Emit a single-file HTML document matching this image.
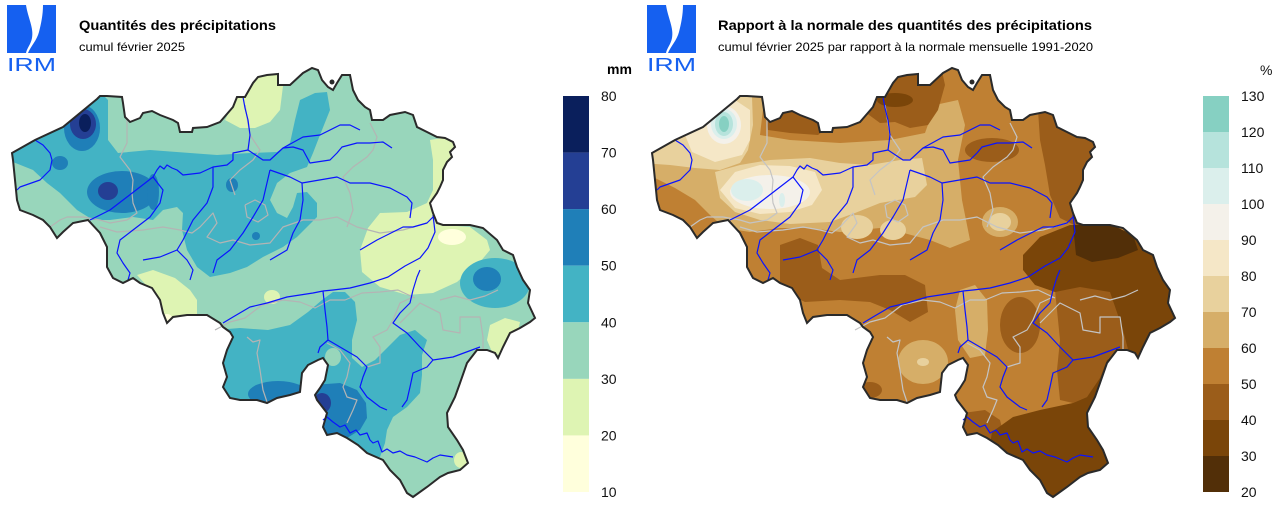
<!DOCTYPE html>
<html><head><meta charset="utf-8">
<style>
html,body{margin:0;padding:0;background:#fff;}
svg{display:block;}
text{font-family:"Liberation Sans",Arial,sans-serif;}
</style></head>
<body>
<svg width="1280" height="507" viewBox="0 0 1280 507" xmlns="http://www.w3.org/2000/svg">
<defs>
<clipPath id="be"><path id="bepath" d="M12,153 L35,140 L63,127 L97,99 L100,96 L107,96 L122,97 L123,103 L125,117 L130,122 L140,118 L143,113 L152,111 L160,115 L173,120 L178,123 L180,132 L192,132 L193,128 L207,127 L220,122 L233,107 L237,97 L245,97 L253,83 L258,77 L267,75 L278,74 L278,85 L290,85 L303,73 L312,68 L318,70 L322,80 L328,87 L333,90 L337,83 L342,75 L350,75 L353,90 L358,100 L365,107 L370,110 L372,120 L383,120 L390,115 L405,112 L413,115 L417,127 L427,132 L437,137 L445,138 L453,142 L455,147 L450,152 L452,157 L447,162 L443,170 L443,180 L440,187 L437,193 L430,203 L433,213 L437,223 L443,225 L457,225 L470,225 L483,228 L497,240 L503,250 L513,255 L517,267 L523,280 L530,290 L528,303 L535,318 L530,322 L520,328 L510,333 L503,347 L498,358 L495,353 L487,350 L477,350 L467,363 L460,383 L455,397 L447,413 L448,427 L457,440 L463,450 L468,463 L460,470 L448,473 L440,477 L427,487 L413,497 L407,493 L400,480 L390,470 L383,460 L367,453 L358,445 L347,438 L337,433 L327,435 L323,427 L327,413 L317,400 L315,395 L320,388 L325,380 L328,365 L323,358 L318,360 L308,365 L302,373 L300,392 L290,395 L277,398 L267,403 L257,400 L240,400 L230,398 L223,387 L227,377 L223,363 L227,350 L233,337 L230,332 L223,327 L220,323 L207,315 L187,315 L173,317 L167,323 L163,313 L160,300 L152,288 L140,283 L133,278 L123,283 L113,278 L107,267 L107,247 L100,233 L88,220 L73,223 L63,232 L57,238 L50,227 L43,220 L33,215 L20,210 L17,200 L15,180 L13,160 Z"/></clipPath>

<g id="rivers" fill="none" stroke="#0a14ff" stroke-width="1.2" stroke-linejoin="round">
<polyline points="35,140 43,145 50,153 52,160 50,170 40,180 20,187 17,190"/>
<polyline points="90,220 110,210 127,197 140,187 153,177 157,170 160,166 164,169 167,165 172,168 177,170 183,175 200,173 213,167 227,165 233,160 233,153 248,150 263,160 270,160 283,148 303,137 320,135 340,125 350,125 360,130"/>
<polyline points="248,150 250,135 248,120 245,108 243,97"/>
<polyline points="153,177 163,190 160,203 150,217 133,230 120,240 117,253 123,263 130,273 128,280"/>
<polyline points="213,167 213,187 207,203 193,220 183,240 177,250 160,257 143,260"/>
<polyline points="177,250 187,260 193,270 190,280"/>
<polyline points="270,170 263,200 253,217 243,233 230,250 217,260 213,273"/>
<polyline points="283,148 293,147 303,150 310,163 330,160 337,153 342,147 357,143 370,143 383,142 392,148"/>
<polyline points="270,170 290,177 302,183 337,177 350,183 370,183 390,188 407,197 412,203 410,218"/>
<polyline points="302,183 303,200 300,220 293,233 287,250 270,260"/>
<polyline points="360,250 377,240 403,227 413,227 427,223 433,217"/>
<polyline points="433,215 435,232 428,248 420,258 405,266 388,277 370,283 350,288 333,290 323,291"/>
<polyline points="323,291 313,293 300,295 287,297 267,303 250,307 233,317 223,323"/>
<polyline points="323,291 325,310 327,327 328,340 320,347 318,353"/>
<polyline points="328,340 340,347 357,357 367,367 363,377 360,387 367,397 380,407 387,410"/>
<polyline points="420,270 417,277 413,290 410,303 400,313 393,323 407,333 420,347 433,360 453,357 480,347"/>
<polyline points="433,360 427,367 413,373 410,387 407,400 402,407"/>
<polyline points="323,420 327,417 333,422 340,427 345,425 350,433 356,430 360,435 367,433 370,440 373,443 378,441 382,452 387,449 393,453 400,451 407,455 415,457 427,462 433,458 440,455 453,457"/>
</g>

<g id="prov" fill="none" stroke-width="1.2" stroke-linejoin="round">
<polyline points="127,120 127,143 120,157 130,170 133,180 132,193 133,203 137,213 127,220 110,223 100,220 83,217 67,217 60,220 50,227"/>
<polyline points="100,227 117,232 143,230 163,227 180,230 192,233 200,227 213,213 217,223 207,237 220,243 233,240 250,245 270,243 283,227 303,220 320,220 337,217 357,227 380,233 403,230 427,223"/>
<polyline points="370,123 377,137 373,150 367,157 353,167 343,177 350,193 353,210 347,227"/>
<polyline points="245,105 250,135 260,150 253,160 240,170 230,180 235,195"/>
<polyline points="247,337 253,342 260,340 257,353 260,370 263,390 267,402"/>
<polyline points="327,343 340,350 350,363 347,377 343,387 347,397 357,400 353,410 347,423"/>
<polyline points="367,367 380,363 380,347 373,337 387,330 393,320 400,303 413,297"/>
<polyline points="400,323 420,303 440,313 443,330 460,333 460,317 480,317 483,337 483,350"/>
<polyline points="215,330 230,322 245,318 262,305 283,300 300,302 315,308 330,300 345,300 362,293 380,292 398,290 415,298"/>
<polyline points="245,205 255,200 265,205 268,215 258,222 247,217 245,205"/>
<polyline points="440,300 455,296 470,300 485,296 498,290"/>
</g>

<g id="logo" fill="#1560f0">
<path d="M7,5 L26,5 C28,18 34,28 32,38 C31,44 27,48 26,53 L7,53 Z"/>
<path d="M43,5 L56,5 L56,53 L28,53 C31,46 37,40 39,32 C41,24 43,15 43,5 Z"/>
</g>
</defs>

<!-- ============ LEFT PANEL ============ -->
<use href="#logo"/>
<text x="7" y="71" font-size="18.5" fill="#1560f0" textLength="49" lengthAdjust="spacingAndGlyphs">IRM</text>
<text x="79" y="30" font-size="14" font-weight="bold" fill="#000" textLength="197" lengthAdjust="spacingAndGlyphs">Quantités des précipitations</text>
<text x="79" y="51" font-size="12" fill="#000" textLength="106" lengthAdjust="spacingAndGlyphs">cumul février 2025</text>

<g clip-path="url(#be)">
<rect x="0" y="60" width="560" height="447" fill="#98d6bb"/>
<!-- 20-30 -->
<path fill="#def4b3" d="M225,120 L237,97 L258,77 L285,70 L280,110 L270,122 L255,128 L240,128 Z"/>
<path fill="#def4b3" d="M380,213 L407,212 L427,203 L433,190 L433,160 L430,140 L460,135 L455,150 L447,165 L443,185 L437,213 L443,225 L470,227 L487,240 L490,250 L480,262 L465,275 L457,282 L433,293 L407,295 L380,287 L362,272 L360,250 L368,228 Z"/>
<path fill="#def4b3" d="M137,275 L153,270 L175,278 L190,290 L197,300 L197,318 L165,322 L155,295 Z"/>
<ellipse cx="272" cy="297" rx="8" ry="7" fill="#def4b3"/>
<path fill="#def4b3" d="M490,325 L505,318 L520,322 L515,345 L505,358 L492,352 L487,340 Z"/>
<ellipse cx="461" cy="460" rx="7" ry="8" fill="#def4b3"/>
<!-- 10-20 -->
<ellipse cx="452" cy="237" rx="14" ry="8" fill="#ffffdc"/>
<ellipse cx="167" cy="318" rx="5" ry="4" fill="#ffffdc"/>
<!-- 40-50 teal -->
<path fill="#43b3c4" d="M0,148 L45,120 L100,92 L108,100 L108,140 L118,153 L150,150 L190,153 L217,155 L250,153 L277,152 L290,143 L295,120 L300,100 L315,93 L327,92 L330,110 L320,135 L313,153 L307,167 L290,173 L277,183 L270,200 L277,213 L287,218 L293,207 L297,193 L307,192 L317,203 L317,217 L307,227 L297,237 L283,247 L263,257 L247,267 L230,273 L210,277 L197,267 L187,250 L182,230 L183,213 L177,207 L163,210 L153,220 L133,217 L110,220 L93,220 L77,210 L60,193 L47,183 L33,170 L13,162 L0,160 Z"/>
<path fill="#43b3c4" d="M215,330 L240,328 L268,330 L290,325 L308,312 L322,300 L333,292 L345,292 L355,302 L357,320 L352,340 L352,358 L362,367 L375,360 L390,345 L400,335 L415,330 L427,340 L422,355 L422,375 L420,393 L407,407 L393,417 L387,430 L385,443 L380,457 L360,455 L340,445 L320,432 L300,420 L280,410 L230,405 L215,380 Z"/>
<ellipse cx="495" cy="283" rx="35" ry="25" fill="#43b3c4"/>
<ellipse cx="333" cy="357" rx="8" ry="9" fill="#98d6bb"/>
<!-- 50-60 -->
<g fill="#1f7fb8">
<ellipse cx="82" cy="128" rx="18" ry="23"/>
<ellipse cx="60" cy="163" rx="8" ry="7"/>
<ellipse cx="122" cy="192" rx="35" ry="21"/>
<ellipse cx="232" cy="185" rx="6" ry="7"/>
<ellipse cx="256" cy="236" rx="4" ry="4"/>
<ellipse cx="153" cy="192" rx="6" ry="18"/>
<ellipse cx="278" cy="394" rx="30" ry="13"/>
<path d="M313,385 L340,383 L357,390 L366,403 L367,418 L360,430 L347,438 L327,436 L313,418 Z"/>
<ellipse cx="487" cy="279" rx="14" ry="12"/>
</g>
<!-- 60-70 -->
<g fill="#243f94">
<ellipse cx="83" cy="124" rx="13" ry="15"/>
<ellipse cx="108" cy="191" rx="10" ry="9"/>
<ellipse cx="322" cy="403" rx="9" ry="10"/>
</g>
<!-- 70-80 -->
<ellipse cx="85" cy="123" rx="6" ry="9" fill="#0a1f5c"/>
</g>
<use href="#prov" stroke="#b4b4b4"/>
<use href="#rivers"/>
<use href="#bepath" fill="none" stroke="#2a2a2a" stroke-width="2"/>
<circle cx="332" cy="82" r="2.5" fill="#2a2a2a"/>

<!-- colorbar left -->
<rect x="563" y="96" width="26" height="56.6" fill="#0a1f5c"/>
<rect x="563" y="152.6" width="26" height="56.6" fill="#243f94"/>
<rect x="563" y="209.1" width="26" height="56.6" fill="#1f7fb8"/>
<rect x="563" y="265.7" width="26" height="56.6" fill="#43b3c4"/>
<rect x="563" y="322.3" width="26" height="56.6" fill="#98d6bb"/>
<rect x="563" y="378.9" width="26" height="56.6" fill="#def4b3"/>
<rect x="563" y="435.4" width="26" height="56.6" fill="#ffffdc"/>
<text x="607" y="74" font-size="14" font-weight="bold">mm</text>
<g font-size="14" fill="#111">
<text x="601" y="101">80</text>
<text x="601" y="157.6">70</text>
<text x="601" y="214.1">60</text>
<text x="601" y="270.7">50</text>
<text x="601" y="327.3">40</text>
<text x="601" y="383.9">30</text>
<text x="601" y="440.4">20</text>
<text x="601" y="497">10</text>
</g>

<!-- ============ RIGHT PANEL ============ -->
<g transform="translate(640,0)">
<use href="#logo"/>
<text x="7" y="71" font-size="18.5" fill="#1560f0" textLength="49" lengthAdjust="spacingAndGlyphs">IRM</text>
<text x="78" y="30" font-size="14" font-weight="bold" fill="#000" textLength="374" lengthAdjust="spacingAndGlyphs">Rapport à la normale des quantités des précipitations</text>
<text x="78" y="51" font-size="12" fill="#000" textLength="375" lengthAdjust="spacingAndGlyphs">cumul février 2025 par rapport à la normale mensuelle 1991-2020</text>

<g clip-path="url(#be)">
<rect x="0" y="60" width="560" height="447" fill="#bf8033"/>
<!-- 60-70 -->
<g fill="#d6ae68">
<path d="M0,145 L100,90 L125,92 L120,135 L150,140 L200,143 L250,140 L285,133 L295,105 L318,100 L325,125 L318,160 L322,200 L330,240 L310,248 L290,240 L260,232 L240,228 L200,232 L170,228 L140,228 L110,232 L85,228 L70,215 L55,200 L35,188 L15,178 L0,172 Z"/>
<path d="M320,290 L335,285 L347,300 L348,330 L345,355 L330,358 L318,340 L315,310 Z"/>
<ellipse cx="283" cy="362" rx="25" ry="22"/>
<ellipse cx="360" cy="222" rx="18" ry="15"/>
</g>
<!-- 70-80 -->
<g fill="#e8d19d">
<path d="M0,148 L97,97 L112,97 L113,125 L108,150 L100,163 L80,170 L55,168 L30,165 L0,163 Z"/>
<path d="M75,172 L100,165 L130,160 L170,158 L200,163 L230,165 L260,160 L282,158 L287,185 L275,197 L240,203 L215,213 L190,222 L150,224 L120,220 L95,212 L80,198 Z"/>
<ellipse cx="217" cy="227" rx="16" ry="12"/>
<ellipse cx="253" cy="230" rx="13" ry="10"/>
<ellipse cx="360" cy="222" rx="11" ry="9"/>
<ellipse cx="283" cy="362" rx="6" ry="4"/>
</g>
<!-- 80-90 -->
<g fill="#f5e7c7">
<path d="M45,135 L65,108 L95,100 L110,110 L110,140 L102,155 L75,162 L52,152 Z"/>
<path d="M80,190 L95,172 L120,165 L150,166 L175,172 L182,190 L172,205 L150,212 L120,214 L95,208 Z"/>
</g>
<!-- 90-100 -->
<ellipse cx="84" cy="125" rx="17" ry="19" fill="#f4f1ea"/>
<ellipse cx="130" cy="192" rx="40" ry="17" fill="#f4f1ea"/>
<!-- 100-110 -->
<ellipse cx="84" cy="124" rx="13" ry="15" fill="#dbefec"/>
<ellipse cx="107" cy="190" rx="16" ry="11" fill="#dbefec"/>
<ellipse cx="142" cy="200" rx="3" ry="7" fill="#dbefec"/>
<!-- 110-130 -->
<ellipse cx="84" cy="124" rx="9" ry="12" fill="#b6e3dc"/>
<ellipse cx="84" cy="124" rx="5" ry="8" fill="#86d0c2"/>
<!-- 40-50 -->
<g fill="#9b5d1a">
<path d="M125,108 L150,110 L180,118 L190,126 L178,135 L150,133 L128,130 Z"/>
<path d="M225,112 L238,92 L260,70 L300,62 L305,85 L298,110 L288,125 L270,128 L255,122 L240,123 Z"/>
<ellipse cx="352" cy="150" rx="27" ry="12"/>
<path d="M398,110 L460,110 L460,225 L440,228 L420,218 L410,195 L405,165 L400,140 Z"/>
<path d="M140,245 L160,238 L178,245 L182,268 L200,280 L240,275 L265,275 L285,285 L288,312 L270,322 L250,310 L230,302 L200,300 L165,302 L140,290 Z"/>
<ellipse cx="380" cy="325" rx="20" ry="28"/>
<path d="M415,290 L440,285 L483,287 L500,340 L483,357 L467,362 L460,380 L447,397 L433,403 L420,400 L417,370 L420,340 Z"/>
<path d="M323,413 L345,410 L360,420 L365,440 L355,450 L335,445 L320,435 Z"/>
<ellipse cx="230" cy="390" rx="12" ry="8"/>
</g>
<!-- 30-40 -->
<g fill="#7a4509">
<ellipse cx="255" cy="100" rx="18" ry="7"/>
<path d="M383,255 L400,237 L430,225 L470,225 L505,245 L545,285 L545,362 L490,357 L483,330 L470,292 L440,287 L415,292 L395,285 L383,270 Z"/>
<path d="M352,432 L373,417 L400,410 L433,403 L447,397 L460,378 L467,360 L482,352 L545,360 L545,510 L340,510 Z"/>
</g>
<!-- 20-30 -->
<path fill="#522f08" d="M433,225 L470,224 L493,235 L498,250 L478,258 L452,262 L436,255 Z"/>
</g>
<use href="#prov" stroke="#c4c4c4"/>
<use href="#rivers"/>
<use href="#bepath" fill="none" stroke="#2a2a2a" stroke-width="2"/>
<circle cx="332" cy="82" r="2.5" fill="#2a2a2a"/>

<!-- colorbar right -->
<rect x="563" y="96" width="26" height="36" fill="#86d0c2"/>
<rect x="563" y="132" width="26" height="36" fill="#b6e3dc"/>
<rect x="563" y="168" width="26" height="36" fill="#dbefec"/>
<rect x="563" y="204" width="26" height="36" fill="#f4f1ea"/>
<rect x="563" y="240" width="26" height="36" fill="#f5e7c7"/>
<rect x="563" y="276" width="26" height="36" fill="#e8d19d"/>
<rect x="563" y="312" width="26" height="36" fill="#d6ae68"/>
<rect x="563" y="348" width="26" height="36" fill="#bf8033"/>
<rect x="563" y="384" width="26" height="36" fill="#9b5d1a"/>
<rect x="563" y="420" width="26" height="36" fill="#7a4509"/>
<rect x="563" y="456" width="26" height="36" fill="#522f08"/>
<text x="620" y="75" font-size="14" fill="#111">%</text>
<g font-size="14" fill="#111">
<text x="601" y="101">130</text>
<text x="601" y="137">120</text>
<text x="601" y="173">110</text>
<text x="601" y="209">100</text>
<text x="601" y="245">90</text>
<text x="601" y="281">80</text>
<text x="601" y="317">70</text>
<text x="601" y="353">60</text>
<text x="601" y="389">50</text>
<text x="601" y="425">40</text>
<text x="601" y="461">30</text>
<text x="601" y="497">20</text>
</g>
</g>
</svg>
</body></html>
